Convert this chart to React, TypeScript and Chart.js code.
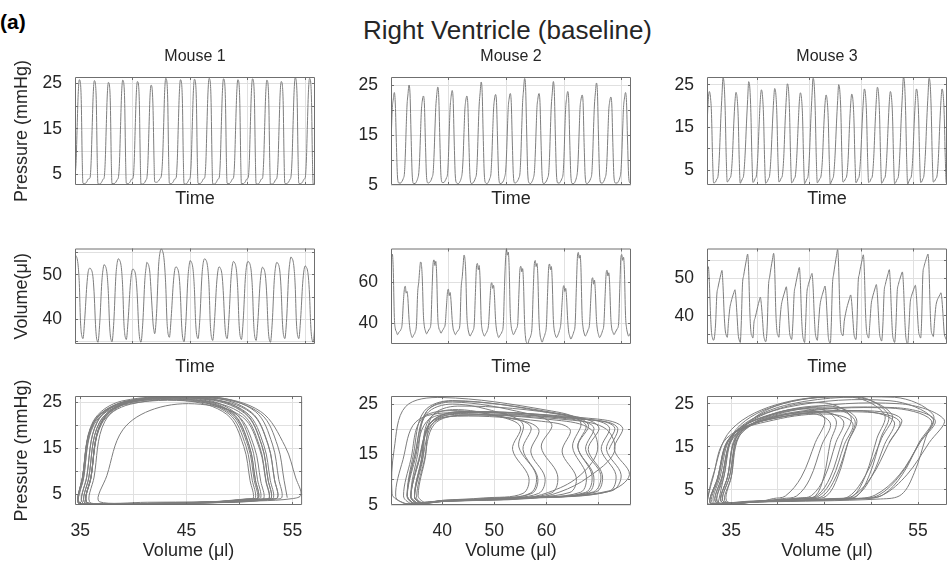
import React, { useEffect, useRef } from "react";
import { Chart, registerables } from "chart.js";

Chart.register(...registerables);

const FONT = "'Liberation Sans', Arial, Helvetica, sans-serif";
const TEXT = "#262626";
const TRACE = "#7d7d7d";
const GRID = "#e0e0e0";
const FRAME = "#6f6f6f";

Chart.defaults.font.family = FONT;
Chart.defaults.color = TEXT;

// Beat period (time units) and per-beat samples. Each beat is sampled at the
// phases listed (fraction of a beat, relative to that beat's pressure peak).
const BEAT = 0.249;

// ---------------- Mouse 1 ----------------
const m1PeakTimes = [0.075, 0.336, 0.58, 0.829, 1.084, 1.322, 1.577, 1.832, 2.075, 2.33, 2.58, 2.829, 3.084, 3.333, 3.583, 3.826, 4.075];
const m1Phases = [-0.3, -0.22, -0.15, -0.08, 0, 0.08, 0.14, 0.2, 0.25, 0.38, 0.52, 0.62];
const m1Pressure = [
  [4.2, 8.0, 15.5, 22.5, 25.8, 25.0, 20.5, 8.5, 3.0, 2.9, 3.3, 3.9],
  [4.2, 8.0, 15.5, 22.5, 25.6, 24.8, 20.5, 8.5, 2.9, 2.8, 3.3, 3.9],
  [4.1, 7.8, 15.2, 22.2, 25.2, 24.4, 20.2, 8.3, 2.9, 2.9, 3.2, 3.8],
  [4.3, 8.1, 15.7, 22.7, 25.7, 24.9, 20.6, 8.6, 3.0, 2.9, 3.3, 3.9],
  [4.1, 7.9, 15.4, 22.4, 25.4, 24.6, 20.3, 8.4, 2.8, 2.8, 3.2, 3.8],
  [4.0, 7.6, 14.8, 21.8, 24.6, 23.6, 19.0, 9.0, 3.3, 3.2, 3.5, 4.0],
  [4.8, 8.5, 15.4, 23.0, 26.1, 25.3, 20.8, 8.7, 3.0, 2.9, 3.3, 3.9],
  [4.2, 8.0, 15.6, 22.6, 25.8, 25.0, 20.6, 8.5, 2.9, 2.8, 3.3, 3.9],
  [4.2, 8.0, 15.6, 22.7, 25.9, 25.1, 20.7, 8.6, 3.0, 2.9, 3.3, 3.9],
  [4.3, 8.1, 15.8, 22.9, 26.1, 25.3, 20.8, 8.7, 2.9, 2.8, 3.3, 3.9],
  [4.2, 8.0, 15.7, 22.8, 26.0, 25.2, 20.7, 8.6, 3.0, 2.9, 3.3, 3.9],
  [4.2, 8.0, 15.6, 22.6, 25.8, 25.0, 20.6, 8.5, 2.9, 2.9, 3.3, 3.9],
  [4.2, 8.0, 15.7, 22.8, 26.0, 25.2, 20.7, 8.6, 2.9, 2.8, 3.3, 3.9],
  [4.1, 7.9, 15.5, 22.5, 25.7, 24.9, 20.5, 8.5, 2.8, 2.8, 3.2, 3.8],
  [4.2, 7.9, 15.4, 22.4, 25.4, 24.6, 20.3, 8.4, 3.0, 2.9, 3.3, 3.9],
  [4.3, 8.2, 15.9, 23.0, 26.2, 25.4, 20.9, 8.7, 3.0, 2.9, 3.3, 3.9],
  [4.2, 8.1, 15.8, 22.9, 26.1, 25.3, 20.8, 8.7, 2.8, 2.8, 3.3, 3.9],
];
const m1Volume = [
  [54.5, 54.2, 53.6, 52.0, 48.0, 39.7, 37.0, 36.0, 35.7, 40.2, 47.5, 50.7],
  [51.5, 51.2, 50.6, 49.0, 45.0, 38.9, 36.2, 35.2, 34.9, 39.4, 48.3, 51.5],
  [52.3, 52.0, 51.4, 49.8, 45.8, 39.0, 36.3, 35.3, 35.0, 39.5, 49.6, 52.8],
  [53.6, 53.3, 52.7, 51.1, 47.1, 39.5, 36.8, 35.8, 35.5, 40.0, 47.3, 50.5],
  [51.3, 51.0, 50.4, 48.8, 44.8, 38.9, 36.2, 35.2, 34.9, 39.4, 48.8, 52.0],
  [52.8, 52.5, 51.9, 50.3, 46.3, 42.0, 39.0, 37.5, 36.8, 41.3, 51.8, 55.0],
  [55.8, 55.3, 54.3, 52.0, 47.5, 40.0, 37.3, 36.3, 36.0, 40.5, 47.8, 51.0],
  [51.8, 51.5, 50.9, 49.3, 45.3, 39.0, 36.3, 35.3, 35.0, 39.5, 49.2, 52.4],
  [53.2, 52.9, 52.3, 50.7, 46.7, 39.7, 37.0, 36.0, 35.7, 40.2, 49.6, 52.8],
  [53.6, 53.3, 52.7, 51.1, 47.1, 39.3, 36.6, 35.6, 35.3, 39.8, 47.8, 51.0],
  [51.8, 51.5, 50.9, 49.3, 45.3, 39.7, 37.0, 36.0, 35.7, 40.2, 49.0, 52.2],
  [53.0, 52.7, 52.1, 50.5, 46.5, 39.5, 36.8, 35.8, 35.5, 40.0, 49.0, 52.2],
  [53.0, 52.7, 52.1, 50.5, 46.5, 39.3, 36.6, 35.6, 35.3, 39.8, 47.7, 50.9],
  [51.7, 51.4, 50.8, 49.2, 45.2, 38.9, 36.2, 35.2, 34.9, 39.4, 48.8, 52.0],
  [52.8, 52.5, 51.9, 50.3, 46.3, 39.7, 37.0, 36.0, 35.7, 40.2, 50.0, 53.2],
  [54.0, 53.7, 53.1, 51.5, 47.5, 39.7, 37.0, 36.0, 35.7, 40.2, 48.0, 51.2],
  [52.0, 51.7, 51.1, 49.5, 45.5, 38.9, 36.2, 35.2, 34.9, 39.4, 49.0, 52.2],
];

// ---------------- Mouse 2 ----------------
const m2PeakTimes = [0.058, 0.313, 0.562, 0.811, 1.06, 1.315, 1.563, 1.812, 2.067, 2.316, 2.565, 2.814, 3.063, 3.312, 3.561, 3.81, 4.065, 4.32];
const m2Phases = [-0.58, -0.48, -0.4, -0.32, -0.26, -0.2, -0.14, -0.08, 0, 0.07, 0.14, 0.22, 0.32];
const m2Pressure = [
  [5.4, 5.8, 6.4, 7.6, 11, 16, 20.5, 22.0, 23.5, 21.0, 13.5, 6.6, 5.4],
  [5.4, 5.8, 6.3, 7.4, 11, 16.5, 21, 23.0, 25.0, 23.0, 15, 7.0, 5.3],
  [5.3, 5.7, 6.3, 7.5, 10.5, 15.5, 20, 21.8, 22.8, 21.0, 13.5, 6.5, 5.4],
  [5.5, 5.9, 6.5, 7.6, 11, 16, 20.5, 22.8, 24.6, 22.5, 14.5, 6.9, 5.5],
  [5.5, 5.9, 6.4, 7.3, 10.5, 16, 20.5, 22.5, 23.9, 22.0, 14, 6.8, 5.4],
  [5.3, 5.7, 6.3, 7.6, 10.5, 15.5, 20, 21.8, 22.8, 21.0, 13.5, 6.6, 5.3],
  [5.4, 5.8, 6.4, 7.5, 11, 16.5, 21, 23.2, 25.6, 23.5, 15, 7.0, 5.4],
  [5.3, 5.7, 6.3, 7.3, 10.5, 15.5, 20, 22.0, 23.1, 21.5, 14, 6.7, 5.3],
  [5.4, 5.8, 6.5, 7.8, 11, 16, 20.5, 22.2, 23.3, 21.5, 14, 6.8, 5.4],
  [5.5, 5.9, 6.4, 7.5, 11, 16.5, 21.5, 23.8, 26.3, 24.5, 16, 7.2, 5.4],
  [5.3, 5.7, 6.3, 7.6, 11, 16, 20.5, 22.2, 23.3, 21.5, 14, 6.7, 5.3],
  [5.4, 5.8, 6.4, 7.5, 11, 16.5, 21, 23.2, 25.7, 23.5, 15, 7.0, 5.4],
  [5.4, 5.8, 6.3, 7.3, 10.5, 16, 20.5, 22.3, 23.7, 22.0, 14, 6.8, 5.3],
  [5.3, 5.7, 6.4, 7.8, 11, 16, 20.5, 22.0, 23.0, 21.5, 13.5, 6.6, 5.3],
  [5.4, 5.8, 6.3, 7.4, 11, 16.5, 21, 23.2, 25.4, 23.5, 15, 7.0, 5.4],
  [5.4, 5.8, 6.4, 7.5, 10.5, 15.5, 20, 21.6, 22.6, 21.0, 13.5, 6.6, 5.4],
  [5.4, 5.8, 6.4, 7.7, 11, 16, 20.5, 22.2, 23.5, 21.5, 14, 6.7, 5.4],
  [5.4],
];
const m2Volume = [
  [36.5, 40, 57, 73.7, 74.7, 72.0, 73.5, 67.0, 43, 37.5, 36.2, 34.7, 35.9],
  [37.0, 40, 50, 57.0, 58.0, 54.7, 55.5, 52.0, 42, 37.0, 34.8, 33.3, 34.5],
  [35.8, 40, 55, 60.4, 66.0, 69.7, 68.5, 62.0, 44, 38.5, 36.5, 35.1, 36.3],
  [37.5, 40, 56, 69.5, 70.7, 68.0, 70.0, 64.0, 43, 38.0, 36.8, 35.4, 36.6],
  [37.8, 40, 48, 55.5, 56.6, 53.5, 55.0, 51.0, 42, 37.5, 36.0, 34.7, 35.9],
  [37.0, 40, 57, 62.6, 68.0, 73.0, 71.5, 65.0, 44, 38.0, 35.5, 34.0, 35.2],
  [36.5, 40, 55, 68.0, 69.0, 66.0, 68.0, 62.0, 42, 37.0, 35.3, 34.0, 35.2],
  [36.5, 40, 50, 58.5, 59.7, 57.0, 58.5, 54.0, 42, 37.0, 34.8, 33.3, 34.5],
  [36.0, 40, 58, 72.0, 75.9, 73.0, 74.5, 68.0, 45, 38.5, 36.2, 34.7, 35.9],
  [37.5, 40, 54, 66.5, 67.6, 65.0, 66.5, 60.0, 40, 33.0, 30.8, 30.4, 32.5],
  [34.0, 39, 56, 69.0, 70.4, 67.5, 69.0, 63.0, 42, 35.0, 32.5, 31.1, 33.0],
  [35.0, 39.5, 55, 67.5, 68.7, 66.0, 67.5, 61.0, 42, 36.5, 34.5, 33.3, 34.5],
  [36.5, 40, 49, 57.2, 58.3, 55.5, 57.0, 52.5, 41.5, 36.0, 34.0, 32.6, 34.0],
  [36.0, 40, 57, 72.5, 74.3, 71.5, 73.0, 67.0, 44, 38.0, 35.5, 34.0, 35.2],
  [37.0, 40, 51, 61.0, 62.1, 59.0, 61.0, 56.0, 42, 37.0, 34.8, 33.3, 34.5],
  [36.5, 40, 53, 64.5, 65.7, 63.0, 64.5, 59.0, 43, 37.5, 36.0, 34.7, 35.9],
  [37.5, 40, 57, 72.0, 73.3, 70.5, 72.0, 66.0, 44, 38.0, 35.5, 34.0, 35.2],
  [36.5],
];

// ---------------- Mouse 3 ----------------
const m3PeakTimes = [0.065, 0.329, 0.58, 0.825, 1.07, 1.327, 1.572, 1.823, 2.068, 2.319, 2.563, 2.815, 3.059, 3.31, 3.561, 3.813, 4.064, 4.308, 4.559, 4.808];
const m3Phases = [-0.58, -0.48, -0.39, -0.28, -0.17, -0.08, 0, 0.09, 0.17, 0.25, 0.33];
const m3Pressure = [
  [2.4, 3.0, 3.6, 8.0, 16, 21.5, 23.4, 22.0, 18, 8, 2.0],
  [2.2, 2.9, 3.5, 8.5, 17, 22.5, 26.6, 25.0, 19, 8, 2.2],
  [2.5, 3.1, 3.7, 8.0, 16, 21.0, 23.2, 21.8, 17.5, 7.5, 1.9],
  [2.3, 3.0, 3.8, 8.5, 16, 21.5, 25.7, 24.2, 18.5, 8, 2.1],
  [2.3, 3.0, 3.6, 8.0, 16, 21.5, 23.8, 22.3, 17.5, 7.5, 1.9],
  [2.3, 3.0, 3.8, 8.5, 16, 21.3, 24.1, 22.8, 18, 8, 2.2],
  [2.4, 3.1, 3.7, 8.0, 16.5, 22.0, 25.2, 23.8, 18.5, 8, 2.0],
  [2.3, 3.0, 3.6, 8.0, 15.5, 21.0, 23.1, 21.8, 17.5, 7.5, 1.8],
  [2.2, 2.9, 3.5, 8.5, 17, 22.5, 26.5, 25.0, 19, 8, 2.0],
  [2.4, 3.0, 3.6, 7.5, 15.5, 20.5, 22.6, 21.2, 17, 7.5, 1.7],
  [2.2, 2.9, 3.8, 8.5, 16, 21.3, 25.0, 23.5, 18.5, 8, 2.2],
  [2.4, 3.0, 3.6, 7.5, 15.5, 20.5, 22.8, 21.5, 17, 7.5, 2.0],
  [2.3, 3.0, 3.8, 8.5, 16, 21.2, 24.0, 22.6, 18, 8, 2.1],
  [2.3, 3.0, 3.6, 8.0, 16, 21.5, 24.4, 23.0, 18, 8, 1.9],
  [2.3, 3.0, 3.6, 8.0, 15.5, 21.0, 23.4, 22.0, 17.5, 7.5, 1.8],
  [2.2, 2.9, 3.5, 8.5, 17, 22.5, 26.7, 25.2, 19, 8, 1.7],
  [2.4, 3.0, 3.6, 8.0, 16, 21.3, 24.0, 22.6, 18, 8, 2.1],
  [2.2, 2.9, 3.9, 9.0, 17, 22.5, 26.5, 25.0, 19, 8, 2.2],
  [2.4, 3.0, 3.6, 8.0, 16, 21.3, 24.0, 22.6, 18, 8, 2.0],
  [2.4],
];
const m3Volume = [
  [38.0, 46.0, 48.0, 50.1, 51.9, 53.2, 49.2, 40.5, 35.5, 34.0, 33.4],
  [37.5, 45.6, 47.6, 49.4, 51.1, 52.2, 48.2, 40.5, 36.2, 34.8, 34.2],
  [38.5, 42.0, 43.6, 45.0, 46.2, 47.0, 44.5, 39.5, 35.0, 33.5, 32.8],
  [37.5, 48.5, 50.8, 53.1, 55.2, 56.6, 52.0, 41.0, 35.8, 34.6, 34.0],
  [38.0, 39.5, 40.8, 42.5, 44.0, 45.0, 43.0, 39.0, 35.0, 33.6, 33.0],
  [37.0, 48.0, 50.4, 53.0, 55.2, 56.8, 52.5, 41.0, 36.0, 34.8, 34.2],
  [38.5, 42.5, 44.2, 45.6, 46.9, 47.8, 45.0, 40.0, 35.5, 34.2, 33.6],
  [38.0, 46.0, 48.0, 50.0, 51.8, 53.0, 49.0, 40.0, 35.0, 33.5, 32.8],
  [37.5, 46.0, 48.0, 49.4, 50.6, 51.4, 48.0, 40.5, 35.5, 34.0, 33.4],
  [38.0, 42.5, 44.4, 45.8, 47.1, 48.0, 45.5, 39.5, 34.5, 33.0, 32.4],
  [37.0, 48.5, 51.2, 53.8, 56.2, 57.8, 53.0, 41.5, 36.2, 35.0, 34.6],
  [38.5, 40.5, 42.0, 43.4, 44.7, 45.6, 43.5, 39.0, 35.2, 34.0, 33.6],
  [37.5, 49.0, 51.2, 53.3, 55.1, 56.4, 52.0, 41.0, 35.8, 34.6, 34.0],
  [38.0, 43.0, 44.8, 46.2, 47.5, 48.4, 45.8, 40.0, 35.2, 33.8, 33.2],
  [37.5, 46.5, 48.4, 50.0, 51.4, 52.4, 48.5, 40.5, 35.0, 33.5, 32.8],
  [37.5, 46.5, 48.4, 49.8, 51.0, 51.8, 48.5, 40.5, 35.0, 33.0, 32.4],
  [37.0, 43.5, 45.2, 46.4, 47.5, 48.2, 45.5, 40.0, 35.8, 34.6, 34.0],
  [38.0, 51.0, 53.2, 54.6, 55.8, 56.6, 52.5, 41.5, 36.0, 35.0, 34.4],
  [38.5, 42.5, 44.0, 44.9, 45.6, 46.2, 44.0, 39.5, 35.3, 34.2, 33.6],
  [37.0],
];

// Axis ranges, grid positions and labelled ticks
const TIME_GRID = [1, 2, 3, 4];
const P_GRID = [5, 10, 15, 20, 25];
const P_LABELS = [5, 15, 25];
const V_GRID_5 = [35, 40, 45, 50, 55];
const V_LABELS_TIME = [40, 50];
const V_LABELS_LOOP = [35, 45, 55];
const M2_V_GRID_TIME = [40, 60];
const M2_V_GRID_LOOP = [40, 50, 60, 70];
const M2_V_LABELS_LOOP = [40, 50, 60];

const TITLE = "Right Ventricle (baseline)";
const PANEL_TAG = "(a)";
const MOUSE_NAMES = ["Mouse 1", "Mouse 2", "Mouse 3"];

type Beat = { t: number; p: number; v: number };

function buildBeats(peaks: number[], phases: number[], pressure: number[][], volume: number[][]): Beat[] {
  const out: Beat[] = [];
  pressure.forEach((row, i) => {
    row.forEach((p, j) => out.push({ t: peaks[i] + phases[j] * BEAT, p, v: volume[i][j] }));
  });
  return out;
}

type MouseSpec = {
  beats: Beat[];
  tMin: number; tMax: number;
  pMin: number; pMax: number;
  vMin: number; vMax: number;
  vGridTime: number[]; vLabelsTime: number[];
  vGridLoop: number[]; vLabelsLoop: number[];
};

const MICE: MouseSpec[] = [
  {
    beats: buildBeats(m1PeakTimes, m1Phases, m1Pressure, m1Volume),
    tMin: 0, tMax: 4.17, pMin: 2.6, pMax: 26.4, vMin: 34.5, vMax: 55.9,
    vGridTime: V_GRID_5, vLabelsTime: V_LABELS_TIME, vGridLoop: V_GRID_5, vLabelsLoop: V_LABELS_LOOP,
  },
  {
    beats: buildBeats(m2PeakTimes, m2Phases, m2Pressure, m2Volume),
    tMin: 0, tMax: 4.16, pMin: 5, pMax: 26.6, vMin: 30.2, vMax: 76.2,
    vGridTime: M2_V_GRID_TIME, vLabelsTime: M2_V_GRID_TIME, vGridLoop: M2_V_GRID_LOOP, vLabelsLoop: M2_V_LABELS_LOOP,
  },
  {
    beats: buildBeats(m3PeakTimes, m3Phases, m3Pressure, m3Volume),
    tMin: 0.02, tMax: 4.655, pMin: 1.5, pMax: 26.8, vMin: 32.4, vMax: 58.1,
    vGridTime: V_GRID_5, vLabelsTime: V_LABELS_TIME, vGridLoop: V_GRID_5, vLabelsLoop: V_LABELS_LOOP,
  },
];

// ---- layout (px) ----
const COL_PLOT_LEFT = [75, 391, 707];
const PLOT_W = 240;
const Y_AXIS_W = 75;
const PAD_R = 4;
const CANVAS_W = Y_AXIS_W + PLOT_W + PAD_R;
const ROWS = [
  { top: 40, height: 175, plotTop: 77, plotBottom: 185, xTitleY: 199.5 },
  { top: 225, height: 160, plotTop: 237, plotBottom: 344, xTitleY: 367 },
  { top: 365, height: 200, plotTop: 396, plotBottom: 505, xTitleY: 551 },
];
const TICK_LABEL_Y_ROW3 = 531.5;
const Y_TITLE_X = 22.5;
const SIZE_TICK = 17.5;
const SIZE_AXIS_TITLE = 18;
const SIZE_SUBTITLE = 16;
const SUBTITLE_Y = 57;
const LH = 1.2;

type AxisSpec = { min: number; max: number; grid: number[]; labels: number[]; title: string };
type PanelSpec = {
  row: number; col: number;
  title?: string;
  x: AxisSpec; y: AxisSpec;
  points: { x: number; y: number }[];
  loop: boolean;
};

function buildPanels(): PanelSpec[] {
  const panels: PanelSpec[] = [];
  MICE.forEach((m, col) => {
    const pAxis = (title: string): AxisSpec => ({ min: m.pMin, max: m.pMax, grid: P_GRID, labels: P_LABELS, title });
    const tAxis: AxisSpec = { min: m.tMin, max: m.tMax, grid: TIME_GRID, labels: [], title: "Time" };
    panels.push({
      row: 0, col, title: MOUSE_NAMES[col],
      x: tAxis, y: pAxis(col === 0 ? "Pressure (mmHg)" : ""),
      points: m.beats.map((b) => ({ x: b.t, y: b.p })), loop: false,
    });
    panels.push({
      row: 1, col,
      x: tAxis,
      y: { min: m.vMin, max: m.vMax, grid: m.vGridTime, labels: m.vLabelsTime, title: col === 0 ? "Volume(\u03bcl)" : "" },
      points: m.beats.map((b) => ({ x: b.t, y: b.v })), loop: false,
    });
    panels.push({
      row: 2, col,
      x: { min: m.vMin, max: m.vMax, grid: m.vGridLoop, labels: m.vLabelsLoop, title: "Volume (\u03bcl)" },
      y: pAxis(col === 0 ? "Pressure (mmHg)" : ""),
      points: m.beats.filter((b) => b.t >= m.tMin && b.t <= m.tMax).map((b) => ({ x: b.v, y: b.p })),
      loop: true,
    });
  });
  return panels;
}

const PANELS = buildPanels();

const hasLabel = (labels: number[], v: number) => labels.some((l) => Math.abs(l - v) < 1e-6);
const align = (px: number) => Math.round(px - 0.5) + 0.5;

// Box around the plot area with short inward tick marks on all four sides
const frameBox = {
  id: "frameBox",
  afterDatasetsDraw(chart: any) {
    const { ctx, chartArea: a, scales } = chart;
    const TL = 3;
    ctx.save();
    ctx.strokeStyle = FRAME;
    ctx.lineWidth = 1;
    ctx.beginPath();
    ctx.rect(a.left + 0.5, a.top + 0.5, a.right - a.left - 1, a.bottom - a.top - 1);
    scales.x.ticks.forEach((t: any) => {
      const x = align(scales.x.getPixelForValue(t.value));
      if (x <= a.left + 1 || x >= a.right - 1) return;
      ctx.moveTo(x, a.bottom);
      ctx.lineTo(x, a.bottom - TL);
      ctx.moveTo(x, a.top);
      ctx.lineTo(x, a.top + TL);
    });
    scales.y.ticks.forEach((t: any) => {
      const y = align(scales.y.getPixelForValue(t.value));
      if (y <= a.top + 1 || y >= a.bottom - 1) return;
      ctx.moveTo(a.left, y);
      ctx.lineTo(a.left + TL, y);
      ctx.moveTo(a.right, y);
      ctx.lineTo(a.right - TL, y);
    });
    ctx.stroke();
    ctx.restore();
  },
};

function makeConfig(p: PanelSpec): any {
  const r = ROWS[p.row];
  const plotTopInCanvas = r.plotTop - r.top;
  const xAxisH = r.top + r.height - r.plotBottom;
  const axisLH = SIZE_AXIS_TITLE * LH;
  const subLH = SIZE_SUBTITLE * LH;
  const xTitlePad = r.top + r.height - r.xTitleY - axisLH / 2;
  const xTickPad = TICK_LABEL_Y_ROW3 - r.plotBottom - (SIZE_TICK * LH) / 2;
  const subPadTop = SUBTITLE_Y - r.top - subLH / 2;
  const subPadBottom = plotTopInCanvas - subPadTop - subLH;

  return {
    type: "line",
    data: {
      datasets: [
        {
          data: p.points,
          borderColor: TRACE,
          borderWidth: 1,
          pointRadius: 0,
          fill: false,
          ...(p.loop ? { tension: 0.35 } : { cubicInterpolationMode: "monotone" }),
        },
      ],
    },
    options: {
      animation: false,
      responsive: false,
      devicePixelRatio: 1,
      events: [],
      layout: { padding: { top: p.title ? 0 : plotTopInCanvas, right: PAD_R, bottom: 0, left: 0 } },
      plugins: {
        legend: { display: false },
        tooltip: { enabled: false },
        title: {
          display: !!p.title,
          text: p.title || "",
          fullSize: false,
          color: TEXT,
          font: { family: FONT, size: SIZE_SUBTITLE, weight: "normal" },
          padding: { top: subPadTop, bottom: subPadBottom },
        },
      },
      scales: {
        x: {
          type: "linear",
          min: p.x.min,
          max: p.x.max,
          afterBuildTicks: (s: any) => { s.ticks = p.x.grid.map((v) => ({ value: v })); },
          afterFit: (s: any) => { s.height = xAxisH; },
          grid: { color: GRID, lineWidth: 1, drawTicks: false },
          border: { display: false },
          ticks: {
            display: p.x.labels.length > 0,
            autoSkip: false,
            maxRotation: 0,
            padding: xTickPad,
            color: TEXT,
            font: { family: FONT, size: SIZE_TICK },
            callback: (v: number) => (hasLabel(p.x.labels, v) ? String(v) : ""),
          },
          title: {
            display: !!p.x.title,
            text: p.x.title,
            color: TEXT,
            font: { family: FONT, size: SIZE_AXIS_TITLE },
            padding: { top: 0, bottom: xTitlePad },
          },
        },
        y: {
          type: "linear",
          min: p.y.min,
          max: p.y.max,
          afterBuildTicks: (s: any) => { s.ticks = p.y.grid.map((v) => ({ value: v })); },
          afterFit: (s: any) => { s.width = Y_AXIS_W; },
          grid: { color: GRID, lineWidth: 1, drawTicks: false },
          border: { display: false },
          ticks: {
            autoSkip: false,
            padding: 13,
            color: TEXT,
            font: { family: FONT, size: SIZE_TICK },
            callback: (v: number) => (hasLabel(p.y.labels, v) ? String(v) : ""),
          },
          title: {
            display: !!p.y.title,
            text: p.y.title,
            color: TEXT,
            font: { family: FONT, size: SIZE_AXIS_TITLE },
            padding: { top: Y_TITLE_X - axisLH / 2, bottom: 0 },
          },
        },
      },
    },
    plugins: [frameBox],
  };
}

function Panel({ spec }: { spec: PanelSpec }) {
  const ref = useRef<HTMLCanvasElement | null>(null);
  const r = ROWS[spec.row];
  useEffect(() => {
    if (!ref.current) return;
    const chart = new Chart(ref.current, makeConfig(spec));
    return () => chart.destroy();
  }, [spec]);
  return (
    <canvas
      ref={ref}
      width={CANVAS_W}
      height={r.height}
      style={{
        position: "absolute",
        left: COL_PLOT_LEFT[spec.col] - Y_AXIS_W,
        top: r.top,
        width: CANVAS_W,
        height: r.height,
      }}
    />
  );
}

export default function App() {
  return (
    <div
      style={{
        position: "absolute",
        left: 0,
        top: 0,
        width: 951,
        height: 565,
        background: "#ffffff",
        overflow: "hidden",
        fontFamily: FONT,
      }}
    >
      <div
        style={{
          position: "absolute",
          left: 0,
          top: 11,
          fontSize: 21,
          lineHeight: "21px",
          fontWeight: "bold",
          color: "#000000",
          whiteSpace: "nowrap",
        }}
      >
        {PANEL_TAG}
      </div>
      <div
        style={{
          position: "absolute",
          left: 207.5,
          width: 600,
          top: 17,
          fontSize: 26,
          lineHeight: "26px",
          textAlign: "center",
          color: TEXT,
          whiteSpace: "nowrap",
        }}
      >
        {TITLE}
      </div>
      {PANELS.map((p, i) => (
        <Panel key={i} spec={p} />
      ))}
    </div>
  );
}
